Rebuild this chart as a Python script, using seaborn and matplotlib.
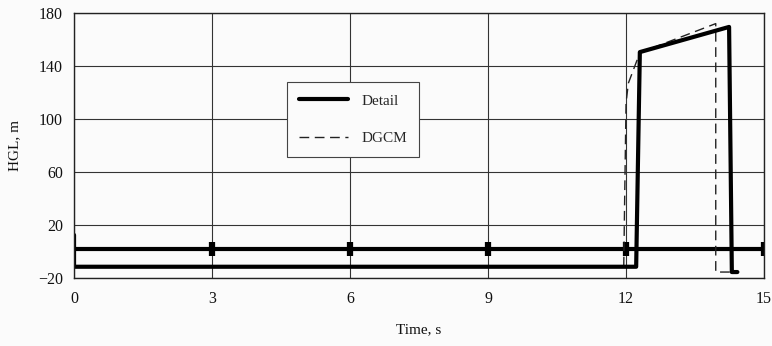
import pandas as pd
import matplotlib
matplotlib.use("Agg")
import matplotlib.pyplot as plt
import seaborn as sns

sns.set_theme(style="white")
plt.rcParams['font.family'] = ['Liberation Serif', 'DejaVu Serif']

# Detailed model: hydraulic grade line at the valve
detail_time = [0.0, 0.0, 12.22, 12.3, 14.24, 14.3, 14.42]
detail_hgl = [12.5, -11.5, -11.5, 150.5, 169.5, -15.5, -15.5]

# DGCM (discrete gas cavity model)
dgcm_time = [0.0, 11.95, 11.97, 12.0, 12.05, 12.3, 13.95, 13.95, 14.3]
dgcm_hgl = [-11.5, -11.5, 40.0, 112.0, 127.0, 150.0, 172.0, -15.5, -15.5]

# Upstream head (constant reservoir level)
base_time = [0.0, 3.0, 6.0, 9.0, 12.0, 15.0]
base_hgl = [1.7, 1.7, 1.7, 1.7, 1.7, 1.7]

x_ticks = [0, 3, 6, 9, 12, 15]
y_ticks = [-20, 20, 60, 100, 140, 180]

detail_df = pd.DataFrame({"t": detail_time, "h": detail_hgl})
dgcm_df = pd.DataFrame({"t": dgcm_time, "h": dgcm_hgl})
base_df = pd.DataFrame({"t": base_time, "h": base_hgl})

fig = plt.figure(figsize=(7.72, 3.46), dpi=100, facecolor="#fbfbfb")
ax = fig.add_axes([0.0959, 0.1965, 0.8938, 0.7659])
ax.set_facecolor("#fbfbfb")

sns.lineplot(data=base_df, x="t", y="h", ax=ax, color="black", linewidth=3.0,
             sort=False, estimator=None, marker="|", markersize=10,
             markeredgewidth=4.5, markeredgecolor="black",
             markevery=[1, 2, 3, 4, 5], legend=False)
sns.lineplot(data=dgcm_df, x="t", y="h", ax=ax, color="#222222", linewidth=1.0,
             sort=False, estimator=None, dashes=False, linestyle=(0, (7, 4)),
             label="DGCM")
sns.lineplot(data=detail_df, x="t", y="h", ax=ax, color="black", linewidth=3.0,
             sort=False, estimator=None, label="Detail")

ax.set_xlim(0, 15)
ax.set_ylim(-20, 180)
ax.set_xticks(x_ticks)
ax.set_yticks(y_ticks)
ax.grid(True, color="#333333", linewidth=0.8)
for s in ax.spines.values():
    s.set_color("#222222")
    s.set_linewidth(1.0)
ax.tick_params(axis="both", labelsize=11.5, colors="#111111", length=3,
               width=0.8, direction="out", pad=5)
ax.tick_params(axis="x", pad=9, length=0)

ax.set_xlabel("Time, s", fontsize=11, labelpad=12, color="#111111")
ax.set_ylabel("HGL, m", fontsize=11, labelpad=12, color="#111111")

handles, labels = ax.get_legend_handles_labels()
order = [labels.index("Detail"), labels.index("DGCM")]
leg = ax.legend([handles[i] for i in order], [labels[i] for i in order],
                loc="upper left", bbox_to_anchor=(0.308, 0.74),
                frameon=True, fancybox=False, edgecolor="#444444",
                framealpha=1.0, facecolor="#fbfbfb", fontsize=11,
                handlelength=3.2, labelspacing=1.55, borderpad=0.8,
                handletextpad=0.9, borderaxespad=0)
leg.get_frame().set_linewidth(0.8)

fig.savefig("out.png", dpi=100, facecolor=fig.get_facecolor())
